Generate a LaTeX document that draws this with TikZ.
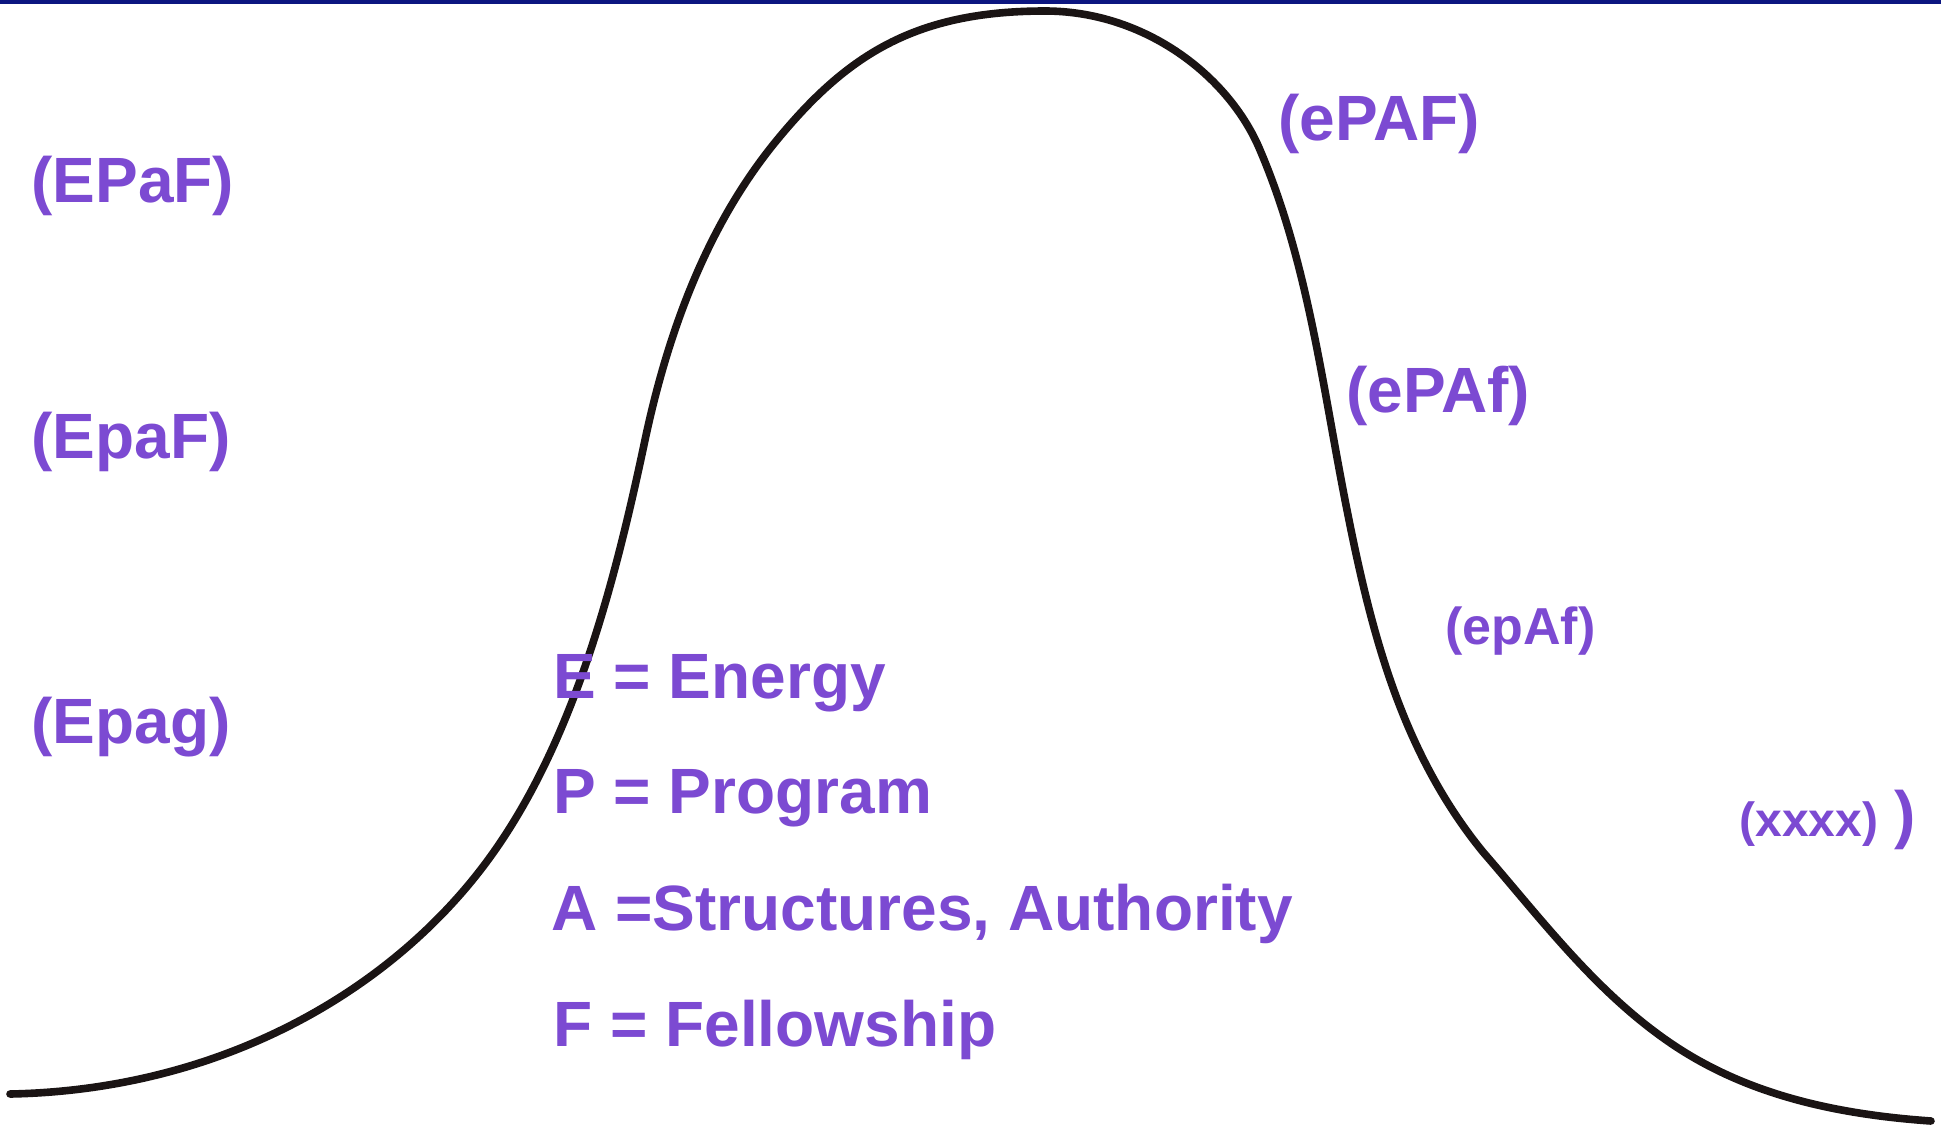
\documentclass[tikz,border=0pt]{standalone}
\usepackage{fontspec}
\setmainfont{Liberation Sans}
\definecolor{labelpurple}{RGB}{124,74,210}
\definecolor{topblue}{RGB}{12,22,128}
\definecolor{curveblack}{RGB}{26,20,20}
\tikzset{
  lbl/.style={anchor=base west, inner sep=0pt, text=labelpurple, font=\bfseries\fontsize{32}{38}\selectfont},
  lblsmall/.style={lbl, font=\bfseries\fontsize{26}{30}\selectfont},
  lbltiny/.style={lbl, font=\bfseries\fontsize{24}{28}\selectfont},
  curve/.style={draw=curveblack, line width=3.8pt, line cap=round, line join=round}
}
\begin{document}
\begin{tikzpicture}[x=0.5pt,y=-0.5pt]
\useasboundingbox (0,0) rectangle (1941,1130);
\fill[white] (0,0) rectangle (1941,1130);
\fill[topblue] (0,0) rectangle (1941,4);
\coordinate (p0) at (10,1094);
\coordinate (p1) at (485,864);
\coordinate (p2) at (645,440);
\coordinate (q)  at (777,140);
\coordinate (p3) at (1045,11);
\coordinate (r)  at (1260,150);
\coordinate (s)  at (1345,500);
\coordinate (t)  at (1483,852);
\coordinate (v)  at (1669,1042);
\coordinate (u)  at (1931,1121);
\draw[curve] (p0) .. controls (220,1090) and (389,992) .. (p1)
  .. controls (572,748) and (614,587) .. (p2)
  .. controls (668,332) and (707,225) .. (q)
  .. controls (847,55) and (915,11) .. (p3)
  .. controls (1145,11) and (1229,76) .. (r)
  .. controls (1307,260) and (1322,382) .. (s)
  .. controls (1370,628) and (1400,750) .. (t)
  .. controls (1542,920) and (1595,991) .. (v)
  .. controls (1743,1093) and (1831,1114) .. (u);
\node[lbl] (l1) at (31,202) {(EPaF)};
\node[lbl] (l2) at (31,458) {(EpaF)};
\node[lbl] (l3) at (31,743) {(Epag)};
\node[lbl] (r1) at (1278,140) {(ePAF)};
\node[lbl] (r2) at (1346,412) {(ePAf)};
\node[lblsmall] (r3) at (1445,644) {(epAf)};
\node[lbltiny] (r4) at (1739,836) {(xxxx)};
\node[lbl] (r5) at (1894,836) {)};
\node[lbl] (k1) at (553,698) {E = Energy};
\node[lbl] (k2) at (553,813) {P = Program};
\node[lbl] (k3) at (551,930) {A =Structures, Authority};
\node[lbl] (k4) at (553,1046) {F = Fellowship};
\end{tikzpicture}
\end{document}
